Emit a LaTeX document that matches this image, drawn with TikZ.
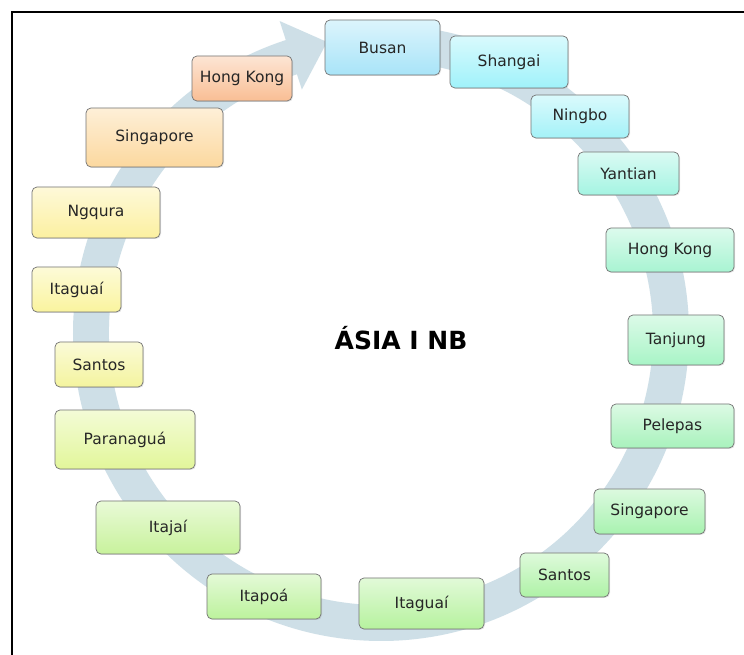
\documentclass[tikz,border=0pt]{standalone}
\usepackage{fontspec}
\setmainfont{DejaVu Sans}
\usepackage{xcolor}
\usetikzlibrary{shadows}

\definecolor{bandcol}{RGB}{206,223,231}
\tikzset{
  port/.style={draw=black!55, line width=0.7pt, rounded corners=5pt,
    top color=white!60!#1, bottom color=#1, text=black!85, inner sep=0pt,
    font=\fontsize{15.5}{18}\selectfont,
    drop shadow={opacity=0.2,shadow xshift=1pt,shadow yshift=-1pt}},
}

\begin{document}
\begin{tikzpicture}[x=1pt,y=1pt]
  \useasboundingbox (0,0) rectangle (744,655);
  \fill[white] (0,0) rectangle (744,655);
  \draw[line width=2.5pt] (12,0)--(12,643)--(744,643);
  % the cycle arrow behind the ports
  \fill[bandcol,shift={(381,322)}] (88:308) arc[start angle=88,end angle=-252,radius=308]
    --(108:328)--(100.5:296)--(108:256)--(108:272)
    arc[start angle=-252,end angle=88,radius=272]--cycle;
  \foreach \nm/\x/\y/\w/\h/\hex/\txt in {
      busan/382.5/607.5/115/55/A8E4F8/Busan,
      shangai/509/593/118/52/A0F2FA/Shangai,
      ningbo/580/538.5/98/43/A4F2F8/Ningbo,
      yantian/628.5/481.5/101/43/A4F4E2/Yantian,
      hongkongb/670/405/128/44/A8F4D2/Hong Kong,
      tanjung/676/315/96/50/A8F4C6/Tanjung,
      pelepas/672.5/229/123/44/A8F2BC/Pelepas,
      singaporeb/649.5/143.5/111/45/A8F2B0/Singapore,
      santosb/564.5/80/89/44/AEF2A6/Santos,
      itaguaib/421.5/51.5/125/51/B6F29E/Itaguaí,
      itapoa/264/58.5/114/45/BCF29C/Itapoá,
      itajai/168/127.5/144/53/C8F29C/Itajaí,
      paranagua/125/215.5/140/59/E2F69A/Paranaguá,
      santosa/99/290.5/88/45/F4F49E/Santos,
      itaguaia/76.5/365.5/89/45/FAF49E/Itaguaí,
      ngqura/96/442.5/128/51/FCF0A0/Ngqura,
      singaporea/154.5/517.5/137/59/FCD89E/Singapore,
      hongkonga/242/576.5/100/45/F9BE94/Hong Kong}
  {
    \definecolor{portfill}{HTML}{\hex}
    \node[port=portfill,minimum width=\w pt,minimum height=\h pt] (\nm) at (\x,\y) {\txt};
  }
  \node[font=\bfseries\fontsize{25}{29}\selectfont] (route) at (401,317) {ÁSIA I NB};
\end{tikzpicture}
\end{document}
